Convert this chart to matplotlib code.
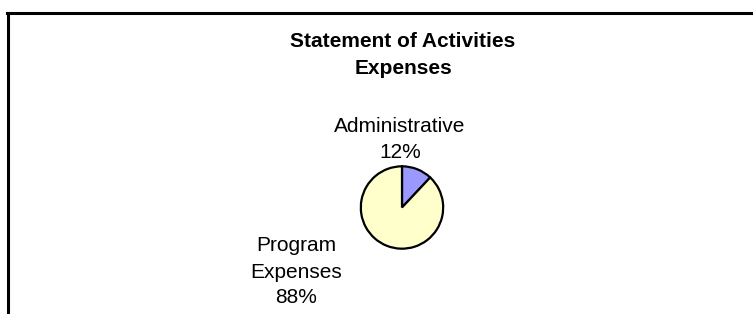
import matplotlib
matplotlib.use("Agg")
import matplotlib.pyplot as plt
from matplotlib.lines import Line2D

categories = ["Administrative", "Program\nExpenses"]
values = [12, 88]
colors = ["#9999FF", "#FFFFCC"]
title_lines = ["Statement of Activities", "Expenses"]

W, H = 753, 314
fig = plt.figure(figsize=(W / 100, H / 100), dpi=100)
plt.rcParams['font.family'] = ['Liberation Sans', 'DejaVu Sans']

def fx(px):
    return px / W

def fy(py):
    return 1 - py / H

# border (left and top lines)
fig.add_artist(Line2D([fx(8), fx(8)], [fy(12.5), 0], color='black', lw=2.2, transform=fig.transFigure))
fig.add_artist(Line2D([fx(7), 1], [fy(12.5), fy(12.5)], color='black', lw=2.2, transform=fig.transFigure))

# title
fig.text(fx(403), fy(47), title_lines[0], ha='center', va='baseline', fontsize=15, fontweight='bold')
fig.text(fx(403), fy(74), title_lines[1], ha='center', va='baseline', fontsize=15, fontweight='bold')

# pie
cx, cy, r = 402, 207.5, 42
ax = fig.add_axes([fx(cx - r), fy(cy + r), 2 * r / W, 2 * r / H])
ax.pie(values, colors=colors, startangle=90, counterclock=False,
       wedgeprops=dict(edgecolor='black', linewidth=1.6))
ax.set_xlim(-1.02, 1.02)
ax.set_ylim(-1.02, 1.02)
ax.axis('off')

# labels
pct = [f"{v}%" for v in values]
fig.text(fx(400), fy(132), categories[0], ha='center', va='baseline', fontsize=15)
fig.text(fx(400), fy(158), pct[0], ha='center', va='baseline', fontsize=15)
prog = categories[1].split("\n")
fig.text(fx(296), fy(251), prog[0], ha='center', va='baseline', fontsize=15)
fig.text(fx(296), fy(278), prog[1], ha='center', va='baseline', fontsize=15)
fig.text(fx(296), fy(303), pct[1], ha='center', va='baseline', fontsize=15)

fig.savefig("out.png", dpi=100)
